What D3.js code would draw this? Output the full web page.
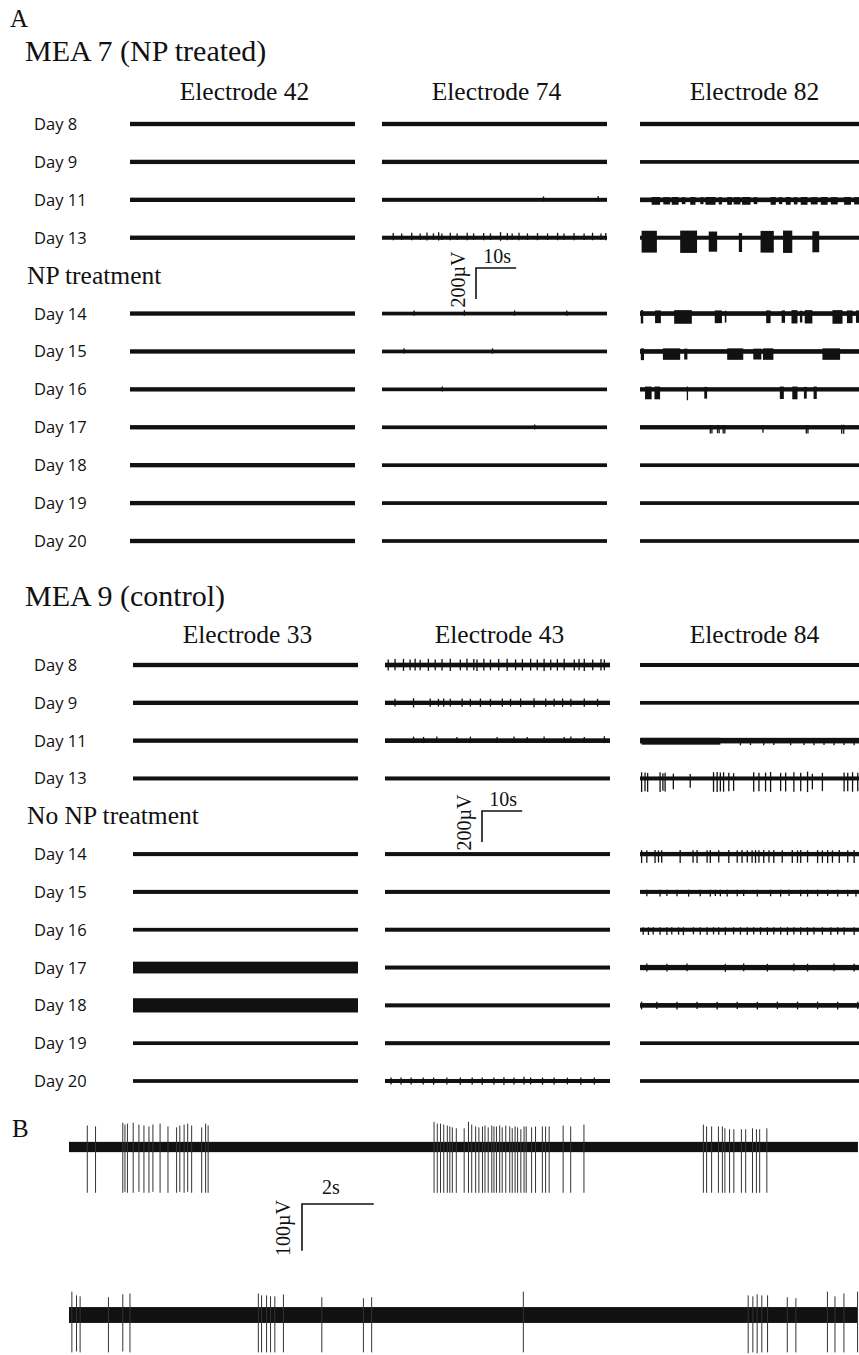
<!DOCTYPE html>
<html>
<head>
<meta charset="utf-8">
<script src="https://cdn.jsdelivr.net/npm/d3@7"></script>
<style>
  body { margin: 0; background: #fff; }
  svg { display: block; }
  .serif { font-family: "Liberation Serif", "Times New Roman", serif; fill: #111; }
  .sans { font-family: "Open Sans", "Noto Sans", sans-serif; fill: #111; }
</style>
</head>
<body>
<svg id="fig" width="859" height="1355"></svg>
<script>
// ---------- row / column labels ----------
const days = ["Day 8", "Day 9", "Day 11", "Day 13", "Day 14", "Day 15", "Day 16", "Day 17", "Day 18", "Day 19", "Day 20"];
const rowKeys = ["Day 8", "Day 9", "Day 11", "Day 13", "treatment", "Day 14", "Day 15", "Day 16", "Day 17", "Day 18", "Day 19", "Day 20"];
const mea7Electrodes = ["Electrode 42", "Electrode 74", "Electrode 82"];
const mea9Electrodes = ["Electrode 33", "Electrode 43", "Electrode 84"];

// recording window shown per trace (s) and scale bars
const traceDuration = 56;
const scaleBarA = { seconds: 10, microvolts: 200 };
const scaleBarB = { seconds: 2, microvolts: 100 };

// ---------- baseline noise half-width per day (µV) ----------
const noiseE42 = [14, 14, 14, 14, 14, 14, 14, 14, 14, 14, 14];
const noiseE74 = [14, 14, 13, 13, 12, 12, 12, 12, 12, 12, 12];
const noiseE82 = [14, 12, 15, 13, 15, 15, 14, 14, 12, 12, 12];
const noiseE33 = [14, 14, 14, 13, 13, 13, 12, 38, 46, 12, 12];
const noiseE43 = [15, 14, 15, 13, 13, 13, 13, 13, 13, 13, 13];
const noiseE84 = [13, 12, 18, 13, 14, 13, 13, 17, 15, 12, 12];

// ---------- single spikes: [day, time s, up µV, down µV] ----------
const spikesE42 = [];
const spikesE74 = [
  ["Day 11", 40.2, 22, 14], ["Day 11", 53.8, 24, 14],
  ["Day 13", 2.8, 30, 16], ["Day 13", 4.9, 28, 14], ["Day 13", 7.4, 32, 16], ["Day 13", 9.5, 28, 14],
  ["Day 13", 11.2, 34, 18], ["Day 13", 12.8, 28, 14], ["Day 13", 14.1, 36, 18], ["Day 13", 14.9, 28, 14],
  ["Day 13", 17.0, 32, 16], ["Day 13", 18.7, 28, 14], ["Day 13", 21.2, 32, 16], ["Day 13", 22.8, 28, 14],
  ["Day 13", 25.3, 30, 16], ["Day 13", 27.0, 28, 14], ["Day 13", 29.5, 36, 20], ["Day 13", 31.2, 30, 16],
  ["Day 13", 32.4, 28, 14], ["Day 13", 34.1, 32, 16], ["Day 13", 36.2, 28, 14], ["Day 13", 38.7, 30, 16],
  ["Day 13", 41.2, 28, 14], ["Day 13", 43.7, 32, 16], ["Day 13", 45.3, 28, 14], ["Day 13", 47.8, 30, 16],
  ["Day 13", 50.3, 28, 14], ["Day 13", 52.4, 32, 16], ["Day 13", 54.5, 28, 14], ["Day 13", 55.7, 30, 16],
  ["Day 14", 8.0, 20, 14], ["Day 14", 20.5, 22, 14], ["Day 14", 33.0, 20, 14], ["Day 14", 46.0, 20, 14],
  ["Day 15", 5.5, 20, 14], ["Day 15", 27.5, 20, 14], ["Day 16", 15.0, 18, 14], ["Day 17", 38.0, 18, 14]
];
const spikesE82 = [
  ["Day 16", 11.8, 18, 70],
  ["Day 17", 17.5, 15, 40], ["Day 17", 17.9, 15, 40], ["Day 17", 19.3, 15, 38], ["Day 17", 19.7, 15, 38],
  ["Day 17", 20.7, 15, 40], ["Day 17", 21.1, 15, 40], ["Day 17", 30.6, 15, 36], ["Day 17", 41.4, 15, 40],
  ["Day 17", 41.8, 15, 40], ["Day 17", 50.2, 16, 42], ["Day 17", 50.7, 16, 42]
];
const spikesE33 = [];
const spikesE43 = [
  ["Day 8", 0.8, 36, 36], ["Day 8", 2.5, 38, 34], ["Day 8", 4.6, 40, 38], ["Day 8", 6.25, 36, 34],
  ["Day 8", 7.5, 40, 36], ["Day 8", 8.75, 34, 34], ["Day 8", 10.8, 40, 38], ["Day 8", 12.5, 36, 34],
  ["Day 8", 14.2, 38, 36], ["Day 8", 16.25, 40, 38], ["Day 8", 18.75, 36, 34], ["Day 8", 20.4, 40, 36],
  ["Day 8", 22.1, 38, 34], ["Day 8", 22.9, 36, 38], ["Day 8", 24.6, 40, 36], ["Day 8", 26.25, 36, 34],
  ["Day 8", 28.3, 38, 36], ["Day 8", 30.4, 40, 38], ["Day 8", 32.5, 36, 34], ["Day 8", 34.2, 38, 36],
  ["Day 8", 36.25, 40, 36], ["Day 8", 37.9, 36, 34], ["Day 8", 39.6, 40, 38], ["Day 8", 41.25, 36, 34],
  ["Day 8", 42.9, 38, 36], ["Day 8", 44.6, 40, 34], ["Day 8", 47.1, 36, 36], ["Day 8", 48.3, 38, 34],
  ["Day 8", 49.6, 40, 38], ["Day 8", 51.7, 36, 34], ["Day 8", 53.75, 38, 36], ["Day 8", 54.6, 36, 34],
  ["Day 9", 2.5, 26, 24], ["Day 9", 7.1, 30, 30], ["Day 9", 11.25, 28, 26], ["Day 9", 13.3, 26, 24],
  ["Day 9", 14.6, 28, 26], ["Day 9", 16.25, 26, 24], ["Day 9", 19.2, 28, 26], ["Day 9", 21.25, 26, 24],
  ["Day 9", 23.75, 28, 26], ["Day 9", 26.25, 26, 24], ["Day 9", 29.2, 28, 26], ["Day 9", 31.25, 26, 24],
  ["Day 9", 33.75, 28, 26], ["Day 9", 37.1, 30, 28], ["Day 9", 40.0, 28, 26], ["Day 9", 42.1, 26, 24],
  ["Day 9", 44.2, 28, 26], ["Day 9", 46.25, 26, 24], ["Day 9", 49.6, 28, 26], ["Day 9", 52.9, 26, 24],
  ["Day 11", 7.1, 26, 16], ["Day 11", 9.6, 24, 16], ["Day 11", 12.9, 26, 16], ["Day 11", 17.9, 24, 16],
  ["Day 11", 21.25, 26, 16], ["Day 11", 27.9, 24, 16], ["Day 11", 32.1, 26, 16], ["Day 11", 35.4, 24, 16],
  ["Day 11", 39.6, 26, 16], ["Day 11", 44.6, 24, 16], ["Day 11", 46.25, 26, 16], ["Day 11", 49.6, 24, 16],
  ["Day 11", 54.6, 28, 16],
  ["Day 20", 1.5, 22, 22], ["Day 20", 4.0, 22, 22], ["Day 20", 6.5, 22, 22], ["Day 20", 9.5, 22, 22],
  ["Day 20", 12.1, 22, 24], ["Day 20", 15.4, 22, 22], ["Day 20", 18.75, 22, 24], ["Day 20", 21.7, 22, 22],
  ["Day 20", 24.2, 22, 24], ["Day 20", 27.1, 22, 22], ["Day 20", 29.6, 24, 24], ["Day 20", 32.1, 22, 22],
  ["Day 20", 34.6, 28, 22], ["Day 20", 36.25, 22, 22], ["Day 20", 39.2, 22, 24], ["Day 20", 42.1, 22, 22],
  ["Day 20", 45.4, 22, 22], ["Day 20", 48.75, 22, 24], ["Day 20", 52.1, 22, 22]
];
const spikesE84 = [
  ["Day 11", 25.0, 14, 30], ["Day 11", 27.5, 14, 28], ["Day 11", 30.8, 14, 30], ["Day 11", 33.3, 14, 28],
  ["Day 11", 37.5, 14, 30], ["Day 11", 40.8, 14, 28], ["Day 11", 43.3, 14, 30], ["Day 11", 45.8, 14, 28],
  ["Day 11", 48.3, 14, 30], ["Day 11", 50.8, 14, 28], ["Day 11", 53.3, 14, 30],
  ["Day 13", 0.4, 40, 88], ["Day 13", 1.25, 38, 82], ["Day 13", 1.9, 36, 86], ["Day 13", 5.0, 40, 88],
  ["Day 13", 5.7, 34, 80], ["Day 13", 6.25, 36, 84], ["Day 13", 8.3, 30, 70], ["Day 13", 12.5, 28, 60],
  ["Day 13", 18.3, 40, 86], ["Day 13", 19.2, 42, 88], ["Day 13", 20.0, 38, 84], ["Day 13", 20.8, 40, 86],
  ["Day 13", 22.1, 36, 82], ["Day 13", 23.3, 34, 80], ["Day 13", 28.3, 40, 86], ["Day 13", 29.6, 36, 82],
  ["Day 13", 31.25, 38, 84], ["Day 13", 32.5, 42, 88], ["Day 13", 35.0, 36, 82], ["Day 13", 36.25, 38, 84],
  ["Day 13", 38.3, 40, 86], ["Day 13", 40.0, 36, 82], ["Day 13", 41.7, 44, 88], ["Day 13", 42.9, 30, 70],
  ["Day 13", 45.4, 36, 82], ["Day 13", 50.8, 38, 84], ["Day 13", 51.7, 36, 82], ["Day 13", 52.9, 40, 86],
  ["Day 13", 54.2, 36, 82],
  ["Day 14", 0.4, 26, 58], ["Day 14", 1.7, 24, 56], ["Day 14", 3.75, 26, 58], ["Day 14", 4.6, 24, 54],
  ["Day 14", 5.4, 24, 56], ["Day 14", 10.0, 26, 58], ["Day 14", 13.2, 24, 56], ["Day 14", 14.2, 26, 58],
  ["Day 14", 16.7, 24, 56], ["Day 14", 17.5, 26, 58], ["Day 14", 19.6, 24, 54], ["Day 14", 22.1, 26, 58],
  ["Day 14", 24.2, 24, 56], ["Day 14", 25.4, 26, 58], ["Day 14", 26.7, 24, 54], ["Day 14", 27.9, 24, 56],
  ["Day 14", 28.75, 26, 58], ["Day 14", 29.6, 24, 56], ["Day 14", 30.8, 26, 58], ["Day 14", 32.1, 24, 54],
  ["Day 14", 33.3, 26, 58], ["Day 14", 35.4, 24, 56], ["Day 14", 37.9, 26, 58], ["Day 14", 39.2, 24, 56],
  ["Day 14", 40.0, 26, 58], ["Day 14", 41.7, 24, 54], ["Day 14", 44.2, 26, 58], ["Day 14", 45.4, 24, 56],
  ["Day 14", 46.7, 26, 58], ["Day 14", 47.9, 24, 56], ["Day 14", 49.6, 26, 58], ["Day 14", 51.7, 24, 54],
  ["Day 14", 53.3, 26, 58],
  ["Day 15", 1.7, 14, 28], ["Day 15", 5.0, 14, 30], ["Day 15", 6.7, 14, 26], ["Day 15", 9.2, 14, 28],
  ["Day 15", 12.1, 14, 30], ["Day 15", 15.0, 14, 28], ["Day 15", 17.5, 14, 30], ["Day 15", 18.75, 14, 26],
  ["Day 15", 20.0, 14, 28], ["Day 15", 21.7, 14, 30], ["Day 15", 24.2, 14, 28], ["Day 15", 25.8, 14, 26],
  ["Day 15", 29.2, 14, 30], ["Day 15", 32.5, 14, 28], ["Day 15", 35.0, 14, 30], ["Day 15", 37.1, 14, 26],
  ["Day 15", 40.0, 14, 28], ["Day 15", 41.7, 14, 30], ["Day 15", 44.2, 14, 28], ["Day 15", 46.7, 14, 26],
  ["Day 15", 49.2, 14, 30], ["Day 15", 51.7, 14, 28], ["Day 15", 53.75, 14, 30],
  ["Day 16", 0.8, 16, 32], ["Day 16", 2.1, 16, 34], ["Day 16", 3.3, 16, 30], ["Day 16", 5.0, 16, 32],
  ["Day 16", 6.7, 16, 34], ["Day 16", 7.9, 16, 30], ["Day 16", 9.6, 16, 32], ["Day 16", 10.8, 16, 34],
  ["Day 16", 13.3, 16, 30], ["Day 16", 15.0, 16, 32], ["Day 16", 16.7, 16, 34], ["Day 16", 18.3, 16, 30],
  ["Day 16", 19.6, 16, 32], ["Day 16", 21.25, 16, 34], ["Day 16", 23.3, 16, 30], ["Day 16", 25.0, 16, 32],
  ["Day 16", 26.7, 16, 34], ["Day 16", 28.3, 16, 30], ["Day 16", 30.0, 16, 32], ["Day 16", 31.7, 16, 34],
  ["Day 16", 33.3, 16, 30], ["Day 16", 35.0, 16, 32], ["Day 16", 36.7, 16, 34], ["Day 16", 38.3, 16, 30],
  ["Day 16", 40.0, 16, 32], ["Day 16", 41.7, 16, 34], ["Day 16", 43.3, 16, 30], ["Day 16", 45.4, 16, 32],
  ["Day 16", 47.5, 16, 34], ["Day 16", 49.2, 16, 30], ["Day 16", 50.8, 16, 32], ["Day 16", 53.3, 16, 34],
  ["Day 17", 1.7, 26, 26], ["Day 17", 6.7, 24, 26], ["Day 17", 11.7, 26, 24], ["Day 17", 21.25, 24, 28],
  ["Day 17", 25.8, 26, 24], ["Day 17", 31.7, 24, 26], ["Day 17", 38.3, 26, 24], ["Day 17", 41.7, 24, 26],
  ["Day 17", 48.3, 26, 24], ["Day 17", 53.3, 24, 26],
  ["Day 18", 0.4, 24, 26], ["Day 18", 4.2, 24, 24], ["Day 18", 9.2, 24, 26], ["Day 18", 14.2, 24, 24],
  ["Day 18", 19.2, 24, 26], ["Day 18", 24.2, 24, 24], ["Day 18", 29.2, 24, 26], ["Day 18", 34.2, 24, 24],
  ["Day 18", 39.2, 24, 26], ["Day 18", 44.2, 24, 24], ["Day 18", 49.2, 24, 26], ["Day 18", 54.2, 24, 24]
];

// ---------- bursts of dense firing: [day, start s, end s, up µV, down µV] ----------
const burstsE74 = [];
const burstsE82 = [
  ["Day 11", 2.9, 5.0, 18, 32], ["Day 11", 5.8, 7.5, 17, 30], ["Day 11", 7.9, 9.6, 18, 32],
  ["Day 11", 10.4, 11.3, 17, 28], ["Day 11", 12.5, 13.8, 18, 32], ["Day 11", 15.0, 15.8, 17, 28],
  ["Day 11", 16.3, 18.8, 18, 32], ["Day 11", 19.6, 20.4, 17, 30], ["Day 11", 21.7, 22.9, 18, 32],
  ["Day 11", 23.3, 25.0, 17, 30], ["Day 11", 25.4, 27.5, 18, 32], ["Day 11", 28.3, 29.2, 17, 28],
  ["Day 11", 32.5, 33.8, 18, 32], ["Day 11", 34.6, 35.4, 17, 28], ["Day 11", 36.3, 37.5, 18, 32],
  ["Day 11", 38.3, 39.2, 17, 30], ["Day 11", 40.0, 41.7, 18, 32], ["Day 11", 42.5, 44.2, 17, 30],
  ["Day 11", 45.0, 46.7, 18, 32], ["Day 11", 47.5, 49.2, 17, 30], ["Day 11", 50.8, 52.5, 18, 32],
  ["Day 11", 53.3, 54.8, 17, 30],
  ["Day 13", 0.4, 4.2, 45, 96], ["Day 13", 10.0, 14.2, 46, 98], ["Day 13", 17.1, 19.2, 40, 90],
  ["Day 13", 24.6, 25.4, 30, 92], ["Day 13", 30.0, 33.3, 44, 96], ["Day 13", 35.6, 37.9, 46, 98],
  ["Day 13", 42.9, 44.6, 42, 94],
  ["Day 14", 0.2, 0.8, 22, 64], ["Day 14", 3.75, 5.2, 20, 62], ["Day 14", 8.5, 12.9, 22, 66],
  ["Day 14", 18.6, 20.4, 20, 62], ["Day 14", 21.1, 21.5, 18, 58], ["Day 14", 31.4, 32.5, 20, 62],
  ["Day 14", 35.25, 36.1, 20, 60], ["Day 14", 37.7, 39.2, 22, 64], ["Day 14", 39.8, 40.4, 18, 58],
  ["Day 14", 41.0, 42.9, 22, 64], ["Day 14", 47.9, 50.4, 22, 66], ["Day 14", 51.5, 52.9, 20, 62],
  ["Day 14", 53.75, 54.75, 20, 60],
  ["Day 15", 0.2, 1.0, 20, 56], ["Day 15", 5.7, 10.0, 20, 54], ["Day 15", 11.0, 11.8, 18, 52],
  ["Day 15", 21.7, 25.7, 20, 54], ["Day 15", 28.2, 30.2, 18, 52], ["Day 15", 30.6, 33.2, 20, 54],
  ["Day 15", 45.4, 49.8, 20, 54],
  ["Day 16", 1.25, 2.9, 18, 64], ["Day 16", 3.6, 5.0, 18, 64], ["Day 16", 16.0, 16.7, 16, 60],
  ["Day 16", 34.8, 35.8, 18, 62], ["Day 16", 37.9, 39.2, 18, 64], ["Day 16", 40.8, 41.5, 16, 60],
  ["Day 16", 43.2, 44.0, 18, 62]
];
const burstsE84 = [
  ["Day 11", 0.4, 20.0, 18, 26]
];

// ---------- panel B: two expanded recordings ----------
const bDuration = 22;
const bNoise = [11, 17];
// [time s, up µV, down µV]
const bSpikes1 = [
  [0.51, 46, 98], [0.74, 44, 98], [1.50, 52, 98], [1.56, 48, 96], [1.63, 50, 98], [1.79, 52, 98],
  [1.95, 48, 96], [2.09, 46, 98], [2.23, 44, 98], [2.34, 48, 96], [2.54, 50, 98], [2.76, 44, 98],
  [3.00, 42, 98], [3.09, 46, 96], [3.21, 48, 98], [3.31, 50, 96], [3.42, 46, 98], [3.70, 42, 98],
  [3.81, 50, 98], [3.88, 46, 98],
  [10.18, 54, 98], [10.27, 50, 98], [10.36, 50, 98], [10.45, 48, 98], [10.55, 46, 98], [10.62, 44, 98],
  [10.69, 42, 98], [10.80, 40, 98], [11.02, 40, 98], [11.14, 54, 98], [11.23, 48, 98], [11.34, 44, 98],
  [11.43, 42, 98], [11.53, 44, 98], [11.60, 46, 98], [11.69, 42, 98], [11.79, 46, 98], [11.85, 44, 98],
  [11.92, 44, 98], [12.01, 46, 98], [12.08, 42, 98], [12.18, 46, 98], [12.29, 44, 98], [12.36, 40, 98],
  [12.44, 44, 98], [12.51, 42, 98], [12.60, 38, 98], [12.69, 44, 98], [12.75, 44, 98], [12.90, 42, 98],
  [13.01, 44, 98], [13.20, 44, 98], [13.29, 44, 98], [13.39, 44, 98], [13.78, 46, 98], [13.99, 44, 98],
  [14.36, 48, 98],
  [17.69, 48, 98], [17.78, 44, 98], [17.92, 44, 98], [18.11, 44, 98], [18.22, 44, 98], [18.29, 40, 98],
  [18.42, 38, 98], [18.54, 38, 98], [18.75, 38, 98], [18.87, 38, 98], [19.06, 40, 98], [19.17, 38, 98],
  [19.26, 38, 98], [19.46, 40, 98]
];
const bSpikes2 = [
  [0.08, 50, 80], [0.21, 42, 78], [0.31, 40, 80], [1.10, 38, 80], [1.50, 44, 78], [1.70, 46, 80],
  [5.28, 46, 80], [5.37, 42, 80], [5.51, 42, 80], [5.62, 40, 80], [5.74, 40, 80], [5.98, 44, 80],
  [7.05, 38, 80], [8.21, 36, 80], [8.44, 38, 80], [12.67, 50, 80], [18.94, 42, 82], [19.07, 40, 80],
  [19.19, 44, 82], [19.32, 42, 80], [19.48, 42, 80], [20.03, 38, 80], [20.27, 36, 80], [21.15, 50, 80],
  [21.36, 40, 80], [21.61, 46, 80], [21.99, 50, 80]
];

// ---------- drawing ----------
const svg = d3.select("#fig");
const traceWidth = 225;
const pxPerMicrovoltA = 31 / 200;
const ampA = d3.scaleLinear().domain([0, 200]).range([0, 200 * pxPerMicrovoltA]);
const ink = "#111";

function serifText(x, y, str, size, anchor = "start") {
  return svg.append("text").attr("class", "serif").attr("x", x).attr("y", y)
    .attr("font-size", size).attr("text-anchor", anchor).text(str);
}

function drawTrace(g, xScale, y0, amp, noise, spikes, bursts, spikeWidth, spikeColor) {
  const [x0, x1] = xScale.range();
  g.append("rect").attr("x", x0).attr("width", x1 - x0)
    .attr("y", y0 - amp(noise)).attr("height", 2 * amp(noise)).attr("fill", ink);
  g.selectAll(null).data(bursts).join("rect")
    .attr("x", d => xScale(d[0])).attr("width", d => Math.max(1, xScale(d[1]) - xScale(d[0])))
    .attr("y", d => y0 - amp(d[2])).attr("height", d => amp(d[2]) + amp(d[3]))
    .attr("fill", ink);
  g.selectAll(null).data(spikes).join("line")
    .attr("x1", d => xScale(d[0])).attr("x2", d => xScale(d[0]))
    .attr("y1", d => y0 - amp(d[1])).attr("y2", d => y0 + amp(d[2]))
    .attr("stroke", spikeColor).attr("stroke-width", spikeWidth);
}

function drawPanel(cfg) {
  const rowY = d3.scalePoint().domain(rowKeys).range(cfg.rowRange);
  serifText(25, cfg.titleY, cfg.title, 30);
  cfg.electrodes.forEach((name, i) => {
    const x0 = cfg.colStarts[i];
    serifText(x0 + traceWidth / 2 + 2, cfg.headerY, name, 25.5, "middle");
    const xScale = d3.scaleLinear().domain([0, traceDuration]).range([x0, x0 + traceWidth]);
    const g = svg.append("g");
    days.forEach((day, k) => {
      const sp = cfg.spikes[i].filter(d => d[0] === day).map(d => d.slice(1));
      const bu = cfg.bursts[i].filter(d => d[0] === day).map(d => d.slice(1));
      drawTrace(g, xScale, rowY(day), ampA, cfg.noise[i][k], sp, bu, 1.3, ink);
    });
  });
  days.forEach(day => {
    svg.append("text").attr("class", "sans").attr("x", 34).attr("y", rowY(day) + 6)
      .attr("font-size", 16.5).text(day);
  });
  serifText(27, rowY("treatment") + 8, cfg.treatmentLabel, 25.5);

  // scale bar
  const [bx, by] = cfg.barAnchor;
  const tScale = d3.scaleLinear().domain([0, traceDuration]).range([0, traceWidth]);
  const hLen = tScale(scaleBarA.seconds), vLen = ampA(scaleBarA.microvolts);
  svg.append("path").attr("d", `M${bx + hLen},${by}H${bx}V${by + vLen}`)
    .attr("fill", "none").attr("stroke", ink).attr("stroke-width", 1.6);
  serifText(bx + hLen / 2 + 1, by - 5, `${scaleBarA.seconds}s`, 20, "middle");
  svg.append("text").attr("class", "serif").attr("font-size", 20).attr("text-anchor", "middle")
    .attr("transform", `translate(${bx - 11},${by + vLen / 2 - 4}) rotate(-90)`)
    .text(`${scaleBarA.microvolts}µV`);
}

serifText(10, 27, "A", 25);

drawPanel({
  title: "MEA 7 (NP treated)", titleY: 61, headerY: 100,
  electrodes: mea7Electrodes, colStarts: [130, 382, 640], rowRange: [124, 541],
  noise: [noiseE42, noiseE74, noiseE82],
  spikes: [spikesE42, spikesE74, spikesE82],
  bursts: [[], burstsE74, burstsE82],
  treatmentLabel: "NP treatment", barAnchor: [476, 268]
});

drawPanel({
  title: "MEA 9 (control)", titleY: 606, headerY: 643,
  electrodes: mea9Electrodes, colStarts: [133, 385, 640], rowRange: [665, 1081],
  noise: [noiseE33, noiseE43, noiseE84],
  spikes: [spikesE33, spikesE43, spikesE84],
  bursts: [[], [], burstsE84],
  treatmentLabel: "No NP treatment", barAnchor: [482, 811]
});

// panel B
serifText(12, 1137, "B", 25);
const pxPerMicrovoltB = 46.7 / 100;
const ampB = d3.scaleLinear().domain([0, 100]).range([0, 100 * pxPerMicrovoltB]);
const xB = d3.scaleLinear().domain([0, bDuration]).range([69, 69 + bDuration * 35.86]);
const gB = svg.append("g");
drawTrace(gB, xB, 1147, ampB, bNoise[0], bSpikes1, [], 1, "#333");
drawTrace(gB, xB, 1315, ampB, bNoise[1], bSpikes2, [], 1, "#333");

const bBar = [302, 1204];
const bh = xB(scaleBarB.seconds) - xB(0), bv = ampB(scaleBarB.microvolts);
svg.append("path").attr("d", `M${bBar[0] + bh},${bBar[1]}H${bBar[0]}V${bBar[1] + bv}`)
  .attr("fill", "none").attr("stroke", ink).attr("stroke-width", 1.6);
serifText(bBar[0] + 29, bBar[1] - 10, `${scaleBarB.seconds}s`, 20, "middle");
svg.append("text").attr("class", "serif").attr("font-size", 20).attr("text-anchor", "middle")
  .attr("transform", `translate(${bBar[0] - 12},${bBar[1] + 24}) rotate(-90)`)
  .text(`${scaleBarB.microvolts}µV`);
</script>
</body>
</html>
